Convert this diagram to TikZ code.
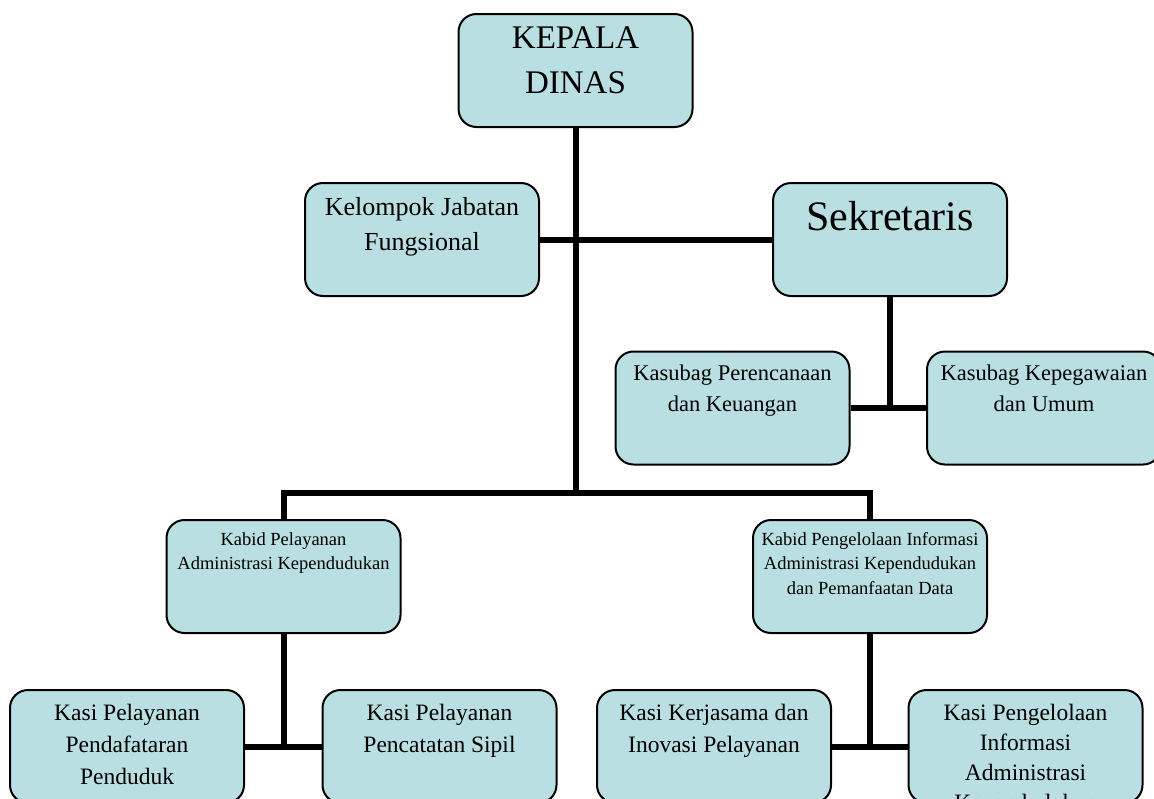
\documentclass[tikz,border=0pt]{standalone}
\usepackage{fontspec}
\setmainfont{Liberation Serif}
\definecolor{boxfill}{RGB}{185,223,226}
\tikzset{
    unit/.style={draw=black, line width=2pt, fill=boxfill, rounded corners=18pt,
        minimum width=234pt, minimum height=113pt, inner sep=0pt},
    lbl/.style={anchor=north, align=center, inner sep=0pt},
    link/.style={black, line width=6pt},
}
\begin{document}
\begin{tikzpicture}[x=1pt, y=-1pt]

    % Page frame (pixels, y downwards)
    \useasboundingbox (0,0) rectangle (1154,798);

    % Top level boxes
    \node[unit] (kepala) at (575.5,70.5) {};
    \node[unit] (kelompok) at (422,239.5) {};
    \node[unit] (sekretaris) at (890,239.5) {};

    % Sub-units of the secretary
    \node[unit] (kasubagA) at (732.5,408) {};
    \node[unit] (kasubagB) at (1044,408) {};

    % Heads of division
    \node[unit] (kabidA) at (283.5,576.5) {};
    \node[unit] (kabidB) at (870,576.5) {};

    % Section heads (bottom row, cut off by the page)
    \node[unit] (kasiA) at (127,746.5) {};
    \node[unit] (kasiB) at (439.5,746.5) {};
    \node[unit] (kasiC) at (714,746.5) {};
    \node[unit] (kasiD) at (1025.5,746.5) {};

    % Texts, hung from the top edge of each box
    \node[lbl, font=\fontsize{33}{45}\selectfont] (kepala-t) at ([yshift=-14pt]kepala.north) {KEPALA\\DINAS};
    \node[lbl, font=\fontsize{26}{35}\selectfont] (kelompok-t) at ([yshift=-15pt]kelompok.north) {Kelompok Jabatan\\Fungsional};
    \node[lbl, font=\fontsize{42}{50}\selectfont] (sekretaris-t) at ([yshift=-19pt]sekretaris.north) {Sekretaris};
    \node[lbl, font=\fontsize{22.5}{31}\selectfont] (kasubagA-t) at ([yshift=-14pt]kasubagA.north) {Kasubag Perencanaan\\dan Keuangan};
    \node[lbl, font=\fontsize{22.5}{31}\selectfont] (kasubagB-t) at ([yshift=-14pt]kasubagB.north) {Kasubag Kepegawaian\\dan Umum};
    \node[lbl, font=\fontsize{18.5}{24.5}\selectfont] (kabidA-t) at ([yshift=-13pt]kabidA.north) {Kabid Pelayanan\\Administrasi Kependudukan};
    \node[lbl, font=\fontsize{18.5}{24.5}\selectfont] (kabidB-t) at ([yshift=-13pt]kabidB.north) {Kabid Pengelolaan Informasi\\Administrasi Kependudukan\\dan Pemanfaatan Data};
    \node[lbl, font=\fontsize{23.5}{32}\selectfont] (kasiA-t) at ([yshift=-15pt]kasiA.north) {Kasi Pelayanan\\Pendafataran\\Penduduk};
    \node[lbl, font=\fontsize{23.5}{32}\selectfont] (kasiB-t) at ([yshift=-15pt]kasiB.north) {Kasi Pelayanan\\Pencatatan Sipil};
    \node[lbl, font=\fontsize{23.5}{32}\selectfont] (kasiC-t) at ([yshift=-15pt]kasiC.north) {Kasi Kerjasama dan\\Inovasi Pelayanan};
    \node[lbl, font=\fontsize{23.5}{30}\selectfont] (kasiD-t) at ([yshift=-15pt]kasiD.north) {Kasi Pengelolaan\\Informasi\\Administrasi\\Kependudukan}; % last line runs off the page

    % Main spine and the bus to the two divisions
    \coordinate (bus) at (575.5,493);
    \draw[link] (kepala.south) -- (bus);
    \draw[link] (kelompok.east) -- (sekretaris.west);
    \draw[link] (kabidA.north) |- (bus) -| (kabidB.north);

    % Secretary branch
    \draw[link] (sekretaris.south) -- (sekretaris.south |- kasubagA.east);
    \draw[link] (kasubagA.east) -- (kasubagB.west);

    % Division branches
    \draw[link] (kabidA.south) -- (kabidA.south |- kasiA.east);
    \draw[link] (kasiA.east) -- (kasiB.west);
    \draw[link] (kabidB.south) -- (kabidB.south |- kasiC.east);
    \draw[link] (kasiC.east) -- (kasiD.west);

\end{tikzpicture}
\end{document}
